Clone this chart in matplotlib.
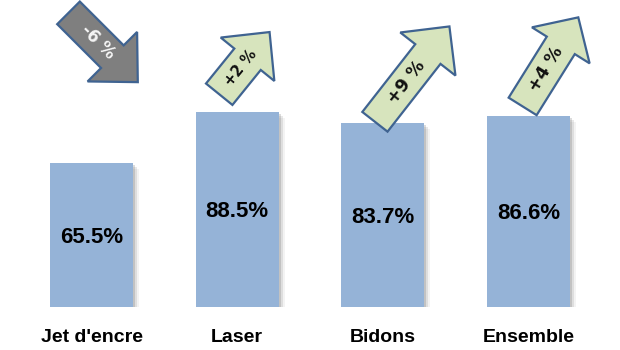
import matplotlib
matplotlib.use("Agg")
import matplotlib.pyplot as plt
import matplotlib.transforms as mtransforms
from matplotlib.patches import Polygon

categories = ["Jet d'encre", "Laser", "Bidons", "Ensemble"]
values = [65.5, 88.5, 83.7, 86.6]
changes = [-6, 2, 9, 4]
change_labels = ["-6 %", "+2 %", "+9 %", "+4 %"]

# arrow geometry in pixels: tail offset from bar top, angle, body len, head len, body w, head w
arrow_style = [
    dict(dx=-23, dy=150, ang=-45, body=62, head=36, w=32, hw=70, fs=12),
    dict(dx=-18, dy=18, ang=51, body=45, head=35, w=34, hw=69, fs=10.5),
    dict(dx=-8, dy=1, ang=52, body=86, head=35, w=32, hw=70, fs=12.5),
    dict(dx=-6, dy=10, ang=58, body=72, head=33, w=33, hw=68, fs=12.5),
]

bar_color = "#95B3D7"
edge = "#3F6391"

fig = plt.figure(figsize=(6.2, 3.5), dpi=100)
ax = fig.add_axes([0, 43 / 350, 1, 307 / 350])
ax.set_xlim(-0.628, 3.627)
ax.set_ylim(0, 139.5)
ax.axis("off")

x = list(range(len(categories)))

# soft shadow on right/bottom
for off, a in [(2, 0.22), (4, 0.14), (6, 0.07)]:
    tr = mtransforms.offset_copy(ax.transData, fig=fig, x=off, y=-off, units="dots")
    ax.bar(x, values, width=0.57, color="#606060", alpha=a, transform=tr, zorder=1)

ax.bar(x, values, width=0.57, color=bar_color, zorder=2)

for xi, v in zip(x, values):
    ax.text(xi, v / 2 - 1, f"{v:.1f}%", ha="center", va="center",
            fontsize=16, fontweight="bold", family="Liberation Sans", zorder=3)

lab_tr = mtransforms.blended_transform_factory(ax.transData, fig.transFigure)
for xi, c in zip(x, categories):
    ax.text(xi, 13 / 350, c, ha="center", va="center", transform=lab_tr,
            fontsize=14, fontweight="bold", family="Liberation Sans")

for xi, v, ch, lab, st in zip(x, values, changes, change_labels, arrow_style):
    L, hl, w, hw = st["body"], st["head"], st["w"], st["hw"]
    pts = [(0, -w / 2), (L, -w / 2), (L, -hw / 2), (L + hl, 0),
           (L, hw / 2), (L, w / 2), (0, w / 2)]
    tr = (mtransforms.Affine2D().rotate_deg(st["ang"]).translate(st["dx"], st["dy"])
          .scale(1 / fig.dpi) + fig.dpi_scale_trans
          + mtransforms.ScaledTranslation(xi, v, ax.transData))
    fill = "#7F7F7F" if ch < 0 else "#D7E4BD"
    ax.add_patch(Polygon(pts, closed=True, facecolor=fill, edgecolor=edge,
                         linewidth=1.6, transform=tr, zorder=4, clip_on=False))
    tc = "#F5F5F5" if ch < 0 else "#111111"
    ax.text(0.42 * (L + hl), 0, lab, ha="center", va="center", rotation=st["ang"],
            rotation_mode="anchor", color=tc, fontsize=st["fs"], fontweight="bold",
            transform=tr, zorder=5)

fig.savefig("out.png", dpi=100)
